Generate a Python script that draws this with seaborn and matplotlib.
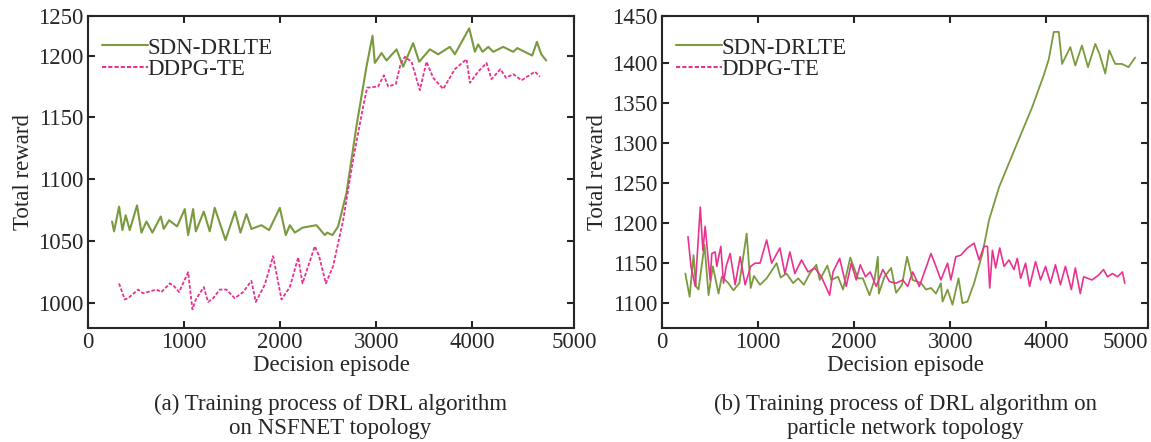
import numpy as np
import pandas as pd
import seaborn as sns
import matplotlib.pyplot as plt
from matplotlib.lines import Line2D

# (a) NSFNET topology
sdn_a_x = [250, 271, 323, 358, 392, 434, 510, 556, 608, 670, 757, 788, 844, 927, 1007, 1042,
           1094, 1122, 1205, 1267, 1319, 1431, 1531, 1587, 1649, 1701, 1806, 1885, 1997, 2059,
           2101, 2153, 2233, 2378, 2465, 2490, 2545, 2604, 2691, 2795, 2899, 2962, 2986, 3056,
           3108, 3212, 3281, 3385, 3448, 3559, 3646, 3767, 3819, 3969, 4028, 4062, 4108, 4167,
           4219, 4323, 4427, 4469, 4625, 4674, 4719, 4771]
sdn_a_y = [1066, 1058, 1078, 1059, 1071, 1059, 1079, 1057, 1066, 1057, 1070, 1060, 1067, 1062,
           1076, 1055, 1076, 1058, 1074, 1058, 1077, 1051, 1074, 1057, 1072, 1060, 1063, 1059,
           1077, 1055, 1063, 1057, 1061, 1063, 1055, 1057, 1055, 1062, 1089, 1143, 1191, 1216,
           1194, 1202, 1196, 1205, 1191, 1210, 1195, 1205, 1201, 1207, 1201, 1222, 1203, 1209,
           1203, 1207, 1203, 1207, 1203, 1206, 1200, 1211, 1201, 1196]
ddpg_a_x = [323, 382, 417, 521, 573, 712, 764, 851, 892, 948, 1042, 1087, 1122, 1205, 1250,
            1302, 1372, 1441, 1528, 1615, 1701, 1747, 1840, 1927, 2014, 2101, 2188, 2233, 2361,
            2406, 2476, 2552, 2656, 2760, 2865, 2906, 3021, 3080, 3125, 3205, 3253, 3299, 3368,
            3455, 3524, 3594, 3698, 3819, 3941, 3976, 4062, 4149, 4201, 4295, 4351, 4427, 4514,
            4653, 4705]
ddpg_a_y = [1016, 1003, 1004, 1011, 1008, 1011, 1009, 1016, 1014, 1009, 1025, 995, 1003, 1013,
            1001, 1004, 1011, 1011, 1004, 1009, 1018, 1001, 1015, 1038, 1003, 1013, 1037, 1016,
            1046, 1038, 1016, 1030, 1067, 1116, 1159, 1174, 1175, 1184, 1175, 1177, 1193, 1199,
            1195, 1172, 1195, 1182, 1173, 1189, 1197, 1178, 1187, 1194, 1181, 1189, 1182, 1185,
            1180, 1187, 1183]

# (b) particle network topology
sdn_b_x = [242, 287, 328, 353, 380, 442, 484, 529, 588, 622, 691, 743, 805, 881, 923, 957, 1020,
           1089, 1193, 1234, 1296, 1365, 1417, 1476, 1538, 1607, 1642, 1721, 1763, 1832, 1884,
           1960, 2039, 2091, 2160, 2212, 2247, 2257, 2316, 2385, 2437, 2499, 2551, 2610, 2697,
           2748, 2800, 2852, 2903, 2921, 2973, 3024, 3087, 3128, 3180, 3249, 3336, 3405, 3509,
           3681, 3854, 3975, 4027, 4079, 4131, 4165, 4251, 4303, 4372, 4435, 4511, 4553, 4615,
           4656, 4718, 4787, 4857, 4926]
sdn_b_y = [1137, 1108, 1160, 1121, 1117, 1173, 1110, 1146, 1112, 1133, 1125, 1116, 1125, 1187,
           1119, 1134, 1123, 1131, 1150, 1132, 1137, 1125, 1131, 1123, 1137, 1148, 1129, 1147,
           1129, 1133, 1117, 1157, 1131, 1131, 1110, 1129, 1158, 1112, 1133, 1144, 1113, 1123,
           1158, 1129, 1125, 1117, 1119, 1112, 1125, 1102, 1117, 1098, 1131, 1100, 1102, 1125,
           1162, 1204, 1245, 1295, 1345, 1385, 1405, 1439, 1439, 1399, 1420, 1397, 1422, 1395,
           1424, 1412, 1387, 1416, 1399, 1399, 1395, 1407]
ddpg_b_x = [270, 301, 346, 398, 425, 449, 484, 501, 518, 553, 570, 612, 640, 667, 709, 761, 813,
            865, 923, 968, 1020, 1089, 1141, 1227, 1279, 1331, 1383, 1452, 1521, 1590, 1659,
            1745, 1780, 1849, 1918, 1970, 2022, 2064, 2118, 2167, 2230, 2299, 2368, 2437, 2506,
            2558, 2610, 2679, 2765, 2800, 2852, 2903, 2973, 3007, 3059, 3111, 3180, 3249, 3301,
            3353, 3388, 3412, 3440, 3474, 3516, 3561, 3613, 3664, 3699, 3734, 3785, 3827, 3889,
            3941, 3993, 4044, 4096, 4148, 4200, 4262, 4303, 4355, 4390, 4476, 4545, 4597, 4638,
            4690, 4742, 4794, 4818]
ddpg_b_y = [1183, 1146, 1121, 1220, 1166, 1196, 1150, 1129, 1162, 1164, 1146, 1171, 1125, 1146,
            1162, 1123, 1158, 1123, 1146, 1150, 1150, 1179, 1150, 1169, 1137, 1164, 1137, 1154,
            1139, 1144, 1133, 1110, 1139, 1156, 1121, 1150, 1129, 1148, 1133, 1139, 1121, 1142,
            1127, 1125, 1129, 1121, 1139, 1121, 1150, 1162, 1146, 1129, 1150, 1129, 1158, 1160,
            1169, 1175, 1154, 1171, 1171, 1119, 1166, 1144, 1169, 1146, 1154, 1142, 1156, 1131,
            1150, 1121, 1152, 1129, 1146, 1125, 1148, 1123, 1146, 1117, 1144, 1112, 1133, 1129,
            1135, 1142, 1133, 1137, 1133, 1139, 1125]

ticks_a = [1000, 1050, 1100, 1150, 1200, 1232]
ticklabels_a = ['1000', '1050', '1100', '1150', '1200', '1250']
ticks_b = [1100, 1150, 1200, 1250, 1300, 1350, 1400, 1459]
ticklabels_b = ['1100', '1150', '1200', '1250', '1300', '1350', '1400', '1450']
xticks = [0, 1000, 2000, 3000, 4000, 5060]
xticklabels = ['0', '1000', '2000', '3000', '4000', '5000']

green = '#7a9a3e'
pink = '#e8338f'
fs = 16.5

sns.set_style('ticks')
plt.rcParams['font.family'] = ['Liberation Serif', 'DejaVu Serif']
plt.rcParams['font.size'] = fs
plt.rcParams['axes.linewidth'] = 1.5

fig = plt.figure(figsize=(11.51, 4.42), dpi=100)
ax1 = fig.add_axes([0.0765, 0.258, 0.4222, 0.706])
ax2 = fig.add_axes([0.5752, 0.258, 0.4222, 0.706])

sns.lineplot(x=sdn_a_x, y=sdn_a_y, ax=ax1, color=green, lw=1.5, estimator=None)
sns.lineplot(x=ddpg_a_x, y=ddpg_a_y, ax=ax1, color=pink, lw=1.3, estimator=None,
             linestyle=(0, (2, 1)))
sns.lineplot(x=sdn_b_x, y=sdn_b_y, ax=ax2, color=green, lw=1.3, estimator=None)
sns.lineplot(x=ddpg_b_x, y=ddpg_b_y, ax=ax2, color=pink, lw=1.2, estimator=None)

for ax, yt, yl, ylim in [(ax1, ticks_a, ticklabels_a, (980, 1232)),
                         (ax2, ticks_b, ticklabels_b, (1069, 1459))]:
    ax.set_xlim(0, 5060)
    ax.set_ylim(*ylim)
    ax.set_xticks(xticks)
    ax.set_xticklabels(xticklabels)
    ax.set_yticks(yt)
    ax.set_yticklabels(yl)
    ax.tick_params(direction='in', top=True, right=True, length=5, width=1.5,
                   labelsize=fs, pad=3)
    ax.set_xlabel('Decision episode', fontsize=fs, labelpad=1)
    ax.set_ylabel('Total reward', fontsize=fs, labelpad=3)
    handles = [Line2D([], [], color=green, lw=1.5),
               Line2D([], [], color=pink, lw=1.5, linestyle=(0, (2, 1)))]
    ax.legend(handles, ['SDN-DRLTE', 'DDPG-TE'], loc='upper left', frameon=False,
              fontsize=fs, handlelength=2.0, handletextpad=0.0, labelspacing=0.0,
              borderaxespad=0.2, bbox_to_anchor=(0.0, 0.975))
    for sp in ax.spines.values():
        sp.set_visible(True)

ax2.get_xticklabels()[-1].set_horizontalalignment('right')

fig.text(0.2872, 0.058, '(a) Training process of DRL algorithm\non NSFNET topology',
         ha='center', va='center', fontsize=fs, linespacing=1.2)
fig.text(0.7863, 0.058, '(b) Training process of DRL algorithm on\nparticle network topology',
         ha='center', va='center', fontsize=fs, linespacing=1.2)

fig.savefig('out.png', dpi=100)
